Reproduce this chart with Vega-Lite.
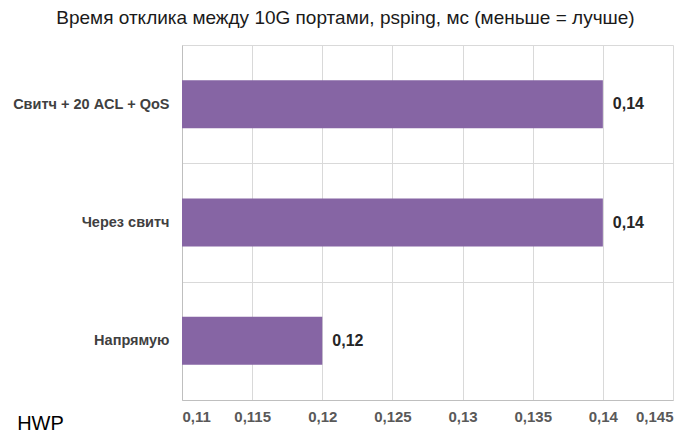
{
  "$schema": "https://vega.github.io/schema/vega-lite/v6.json",
  "width": 491,
  "height": 355,
  "autosize": "none",
  "padding": {"left": 182, "top": 45, "right": 27, "bottom": 39},
  "background": "#ffffff",
  "title": {
    "text": "Время отклика  между 10G портами,  psping, мс (меньше = лучше)",
    "font": "Liberation Sans",
    "fontSize": 19,
    "fontWeight": "normal",
    "color": "#1a1a1a",
    "anchor": "middle",
    "frame": "group",
    "dx": -82,
    "baseline": "alphabetic",
    "offset": -6
  },
  "data": {
    "values": [
      {"case": "Свитч + 20 ACL  + QoS", "ms": 0.14},
      {"case": "Через свитч", "ms": 0.14},
      {"case": "Напрямую", "ms": 0.12}
    ]
  },
  "encoding": {
    "y": {
      "field": "case",
      "type": "nominal",
      "sort": null,
      "scale": {"paddingInner": 0, "paddingOuter": 0},
      "axis": {
        "title": "HWP",
        "titleAngle": 0,
        "titleX": -142,
        "titleY": 378,
        "titleAlign": "center",
        "titleBaseline": "middle",
        "titleFont": "Liberation Sans",
        "titleFontSize": 20,
        "titleFontWeight": "normal",
        "titleColor": "#000000",
        "ticks": false,
        "tickBand": "extent",
        "labelPadding": 13,
        "labelFont": "Liberation Sans",
        "labelFontSize": 14.5,
        "labelFontWeight": "bold",
        "labelColor": "#404040",
        "grid": true,
        "gridColor": "#d9d9d9",
        "domainColor": "#bfbfbf"
      }
    },
    "x": {
      "field": "ms",
      "type": "quantitative",
      "scale": {"domain": [0.11, 0.145], "nice": false, "zero": false},
      "axis": {
        "title": null,
        "values": [0.11, 0.115, 0.12, 0.125, 0.13, 0.135, 0.14, 0.145],
        "format": "~g",
        "ticks": false,
        "labelPadding": 9,
        "labelFont": "Liberation Sans",
        "labelFontSize": 15,
        "labelFontWeight": "bold",
        "labelColor": "#595959",
        "labelBaseline": "top",
        "gridColor": "#d9d9d9",
        "domainColor": "#bfbfbf"
      }
    }
  },
  "layer": [
    {
      "mark": {"type": "bar", "color": "#8665a4", "height": {"band": 0.405}, "clip": true}
    },
    {
      "mark": {
        "type": "text",
        "align": "left",
        "baseline": "middle",
        "dx": 10,
        "font": "Liberation Sans",
        "fontSize": 16,
        "fontWeight": "bold",
        "color": "#262626"
      },
      "encoding": {
        "text": {"field": "ms", "type": "quantitative", "format": "~g"}
      }
    }
  ],
  "config": {
    "locale": {
      "number": {
        "decimal": ",",
        "thousands": " ",
        "grouping": [3],
        "currency": ["", ""]
      }
    },
    "view": {"stroke": null}
  }
}
